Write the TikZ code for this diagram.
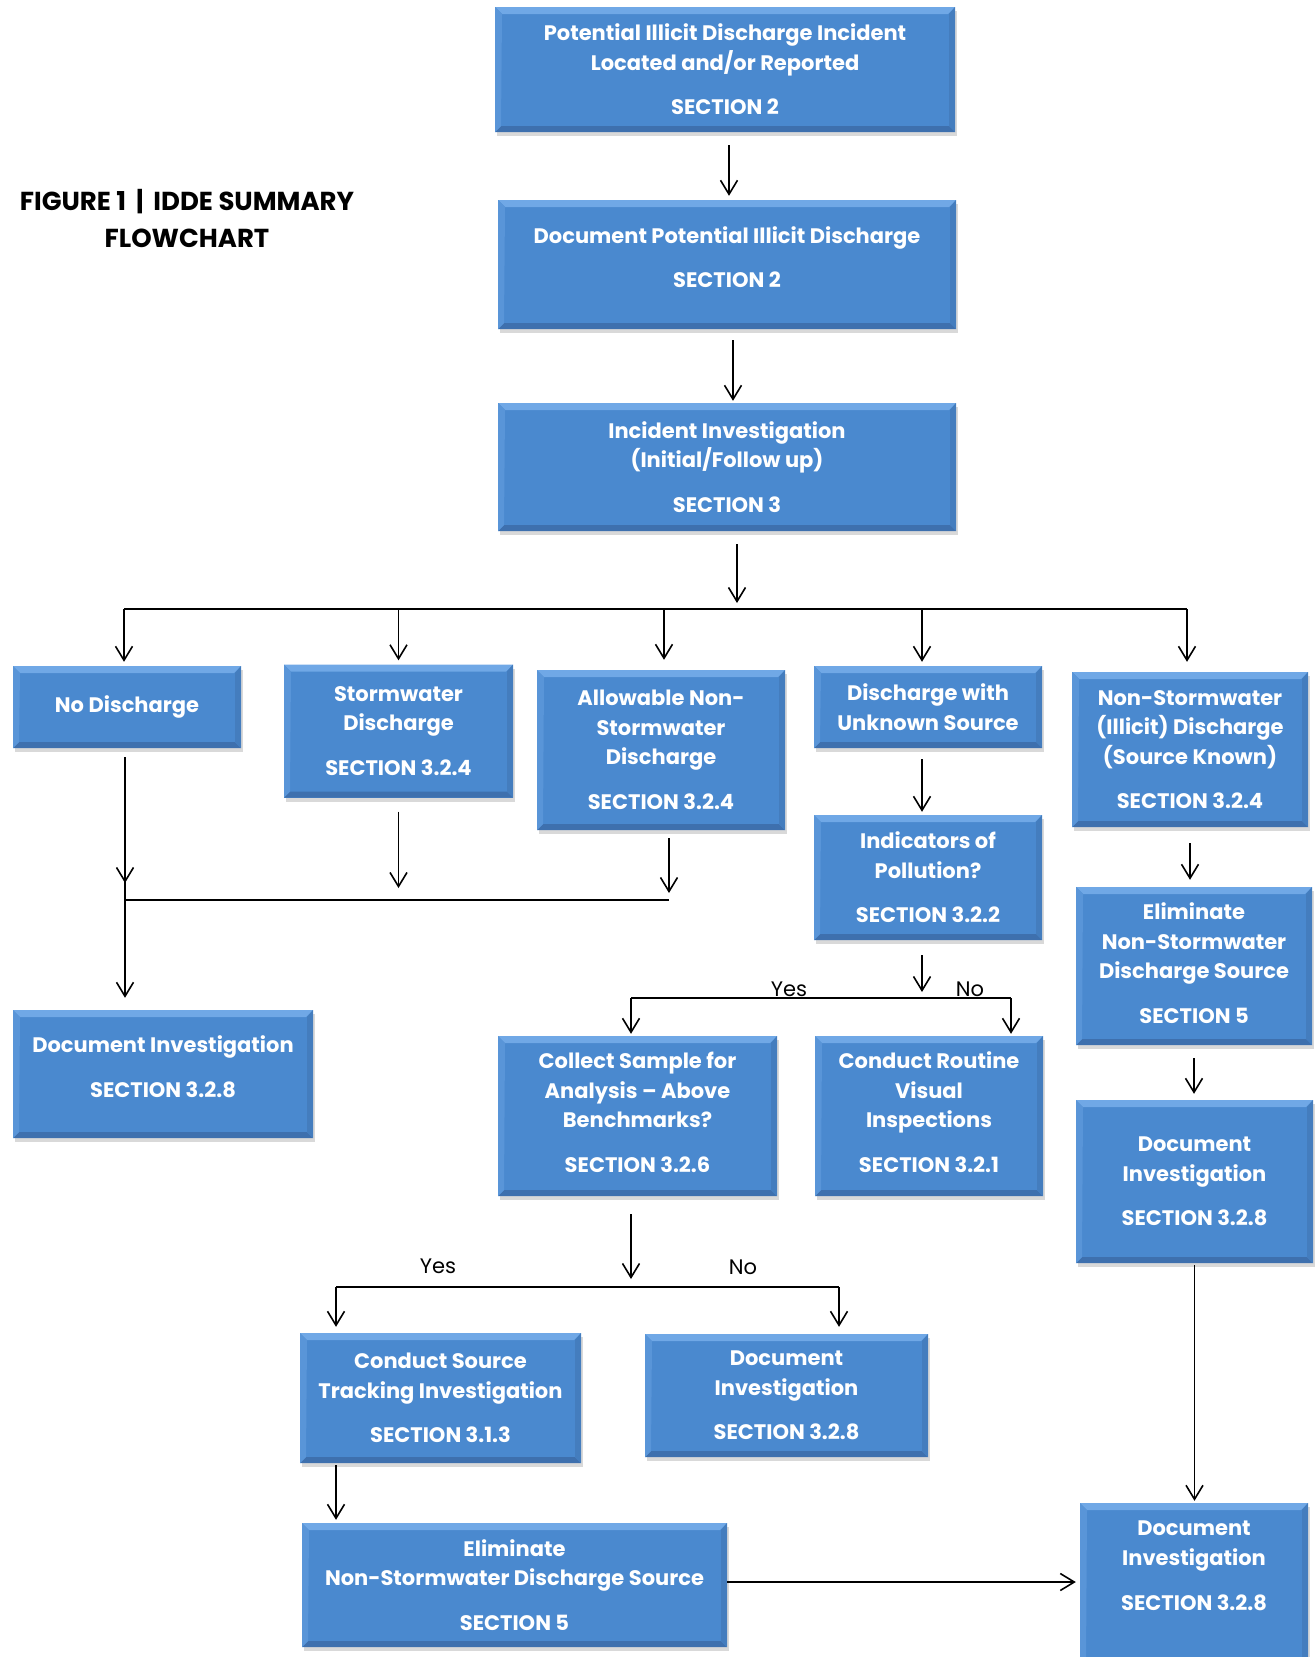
\documentclass[tikz,border=0pt]{standalone}
\usepackage{fontspec}
\setmainfont{Poppins}
\usetikzlibrary{arrows.meta}
\usetikzlibrary{shadows}
\definecolor{boxblue}{RGB}{74,137,207}
\definecolor{boxlight}{RGB}{112,168,230}
\definecolor{boxdark}{RGB}{62,112,174}
\definecolor{boxside}{RGB}{68,125,190}

\begin{document}
\begin{tikzpicture}[x=1pt, y=-1pt,
  >={Straight Barb[length=14pt,width=17pt]},
  flowbox/.style={fill=boxblue, text=white, align=center, inner sep=0pt,
    font=\fontsize{21}{29.6}\selectfont\bfseries,
    drop shadow={shadow xshift=1.5pt, shadow yshift=-4pt, opacity=.3},
    path picture={
      \fill[boxlight] (path picture bounding box.north west) -- (path picture bounding box.north east)
        -- ([xshift=-7pt,yshift=-7pt]path picture bounding box.north east) -- ([xshift=7pt,yshift=-7pt]path picture bounding box.north west) -- cycle;
      \fill[boxdark] (path picture bounding box.south west) -- (path picture bounding box.south east)
        -- ([xshift=-6pt,yshift=6pt]path picture bounding box.south east) -- ([xshift=6pt,yshift=6pt]path picture bounding box.south west) -- cycle;
      \fill[boxside] (path picture bounding box.north east) -- (path picture bounding box.south east)
        -- ([xshift=-6pt,yshift=6pt]path picture bounding box.south east) -- ([xshift=-6pt,yshift=-7pt]path picture bounding box.north east) -- cycle;
      \fill[boxlight!40!boxblue] (path picture bounding box.north west) -- (path picture bounding box.south west)
        -- ([xshift=6pt,yshift=6pt]path picture bounding box.south west) -- ([xshift=7pt,yshift=-7pt]path picture bounding box.north west) -- cycle;
    }},
  flow/.style={black, line width=1.6pt, ->},
  link/.style={black, line width=1.6pt},
  lbl/.style={font=\fontsize{21}{24}\selectfont, anchor=base, inner sep=0pt}]
\useasboundingbox (0,0) rectangle (1315,1657);

\node[font=\fontsize{26}{37}\selectfont\bfseries, align=center] (title) at (187,218) {FIGURE 1 \,|\, IDDE SUMMARY\\FLOWCHART};

\node[flowbox, minimum width=460pt, minimum height=125pt] (report) at (725,69.5) {Potential Illicit Discharge Incident\\Located and/or Reported\\[15pt]SECTION 2};
\node[flowbox, minimum width=458pt, minimum height=129pt] (docpot) at (727,264.5) {Document Potential Illicit Discharge\\[15pt]SECTION 2\\[-15pt]\mbox{}};
\node[flowbox, minimum width=458pt, minimum height=128pt] (invest) at (727,467) {Incident Investigation\\(Initial/Follow up)\\[15pt]SECTION 3};

\node[flowbox, minimum width=228pt, minimum height=82pt] (nodis) at (127,707) {No Discharge};
\node[flowbox, minimum width=229pt, minimum height=133pt] (storm) at (398.5,731) {Stormwater\\Discharge\\[15pt]SECTION 3.2.4};
\node[flowbox, minimum width=248pt, minimum height=160pt] (allow) at (661,750) {Allowable Non-\\Stormwater\\Discharge\\[15pt]SECTION 3.2.4};
\node[flowbox, minimum width=228pt, minimum height=82pt] (unknown) at (928,707) {Discharge with\\Unknown Source};
\node[flowbox, minimum width=236pt, minimum height=155pt] (illicit) at (1190,749.5) {Non-Stormwater\\(Illicit) Discharge\\(Source Known)\\[15pt]SECTION 3.2.4};

\node[flowbox, minimum width=300pt, minimum height=128pt] (docleft) at (163,1074) {Document Investigation\\[15pt]SECTION 3.2.8\\[-15pt]\mbox{}};
\node[flowbox, minimum width=228pt, minimum height=125pt] (indic) at (928,877.5) {Indicators of\\Pollution?\\[15pt]SECTION 3.2.2};
\node[flowbox, minimum width=236pt, minimum height=158pt] (elimright) at (1194,966) {Eliminate\\Non-Stormwater\\Discharge Source\\[15pt]SECTION 5\\[-24pt]\mbox{}};
\node[flowbox, minimum width=237pt, minimum height=163pt] (docright) at (1194.5,1181.5) {Document\\Investigation\\[15pt]SECTION 3.2.8};

\node[flowbox, minimum width=279pt, minimum height=160pt] (sample) at (637.5,1116) {Collect Sample for\\Analysis -- Above\\Benchmarks?\\[15pt]SECTION 3.2.6\\[-22pt]\mbox{}};
\node[flowbox, minimum width=228pt, minimum height=160pt] (routine) at (929,1116) {Conduct Routine\\Visual\\Inspections\\[15pt]SECTION 3.2.1\\[-22pt]\mbox{}};

\node[flowbox, minimum width=281pt, minimum height=130pt] (track) at (440.5,1398) {Conduct Source\\Tracking Investigation\\[15pt]SECTION 3.1.3};
\node[flowbox, minimum width=283pt, minimum height=123pt] (docmid) at (786.5,1395.5) {Document\\Investigation\\[15pt]SECTION 3.2.8};
\node[flowbox, minimum width=425pt, minimum height=124pt] (elimbottom) at (514.5,1585) {Eliminate\\Non-Stormwater Discharge Source\\[15pt]SECTION 5};
\node[flowbox, minimum width=228pt, minimum height=165pt] (docbottom) at (1194,1585.5) {Document\\Investigation\\[15pt]SECTION 3.2.8\\[10pt]~};

\coordinate (splitL) at (124,609);
\coordinate (splitR) at (1187,609);
\coordinate (mergeL) at (125,900);
\coordinate (mergeR) at (669,900);
\coordinate (pollL) at (631,998);
\coordinate (pollR) at (1011,998);
\coordinate (sampL) at (336,1287);
\coordinate (sampR) at (839,1287);

\draw[flow, shorten <=13pt, shorten >=4pt] (report.south -| 729,0) -- (docpot.north -| 729,0);
\draw[flow, shorten <=11pt, shorten >=2pt] (docpot.south -| 733,0) -- (invest.north -| 733,0);
\draw[flow, shorten <=13pt, shorten >=6pt] (invest.south -| 737,0) -- (splitL -| 737,0);
\draw[link] (splitL) -- (splitR);
\draw[flow, shorten >=4pt] (splitL) -- (splitL |- nodis.north);
\draw[flow, shorten >=4pt] (splitL -| storm.north) -- (storm.north);
\draw[flow, shorten >=10pt] (splitL -| 664,0) -- (allow.north -| 664,0);
\draw[flow, shorten >=4pt] (splitL -| 922,0) -- (unknown.north -| 922,0);
\draw[flow, shorten >=10pt] (splitR) -- (splitR |- illicit.north);

\draw[link, shorten <=9pt] (mergeL |- nodis.south) -- (mergeL);
\draw[flow, shorten <=9pt, shorten >=17pt] (mergeL |- nodis.south) -- (mergeL);
\draw[flow, shorten >=12pt] (mergeL) -- (mergeL |- docleft.north);
\draw[flow, shorten <=14pt, shorten >=12pt] (storm.south) -- (storm.south |- mergeL);
\draw[flow, shorten <=8pt, shorten >=7pt] (mergeR |- allow.south) -- (mergeR);
\draw[link] (mergeL) -- (mergeR);

\draw[flow, shorten <=11pt, shorten >=3pt] (unknown.south -| 922,0) -- (indic.north -| 922,0);
\draw[flow, shorten <=15pt, shorten >=6pt] (indic.south -| 922,0) -- (pollL -| 922,0);
\draw[link] (pollL) -- (pollR);
\draw[flow, shorten >=2pt] (pollL) -- (pollL |- sample.north);
\draw[flow, shorten >=2pt] (pollR) -- (pollR |- routine.north);
\node[lbl] (pollyes) at (789,996) {Yes};
\node[lbl] (pollno) at (970,996) {No};

\draw[flow, shorten <=18pt, shorten >=8pt] (pollL |- sample.south) -- (pollL |- sampL);
\draw[link] (sampL) -- (sampR);
\draw[flow, shorten >=6pt] (sampL) -- (sampL |- track.north);
\draw[flow, shorten >=7pt] (sampR) -- (sampR |- docmid.north);
\node[lbl] (sampyes) at (438,1273) {Yes};
\node[lbl] (sampno) at (743,1274) {No};

\draw[flow, shorten <=2pt, shorten >=3pt] (sampL |- track.south) -- (sampL |- elimbottom.north);
\draw[flow, shorten >=4pt] (elimbottom.east |- 0,1582) -- (docbottom.west |- 0,1582);

\draw[flow, shorten <=16pt, shorten >=7pt] (illicit.south) -- (illicit.south |- elimright.north);
\draw[flow, shorten <=13pt, shorten >=6pt] (elimright.south) -- (elimright.south |- docright.north);
\draw[flow, shorten <=2pt, shorten >=2pt] (docright.south) -- (docright.south |- docbottom.north);
\end{tikzpicture}
\end{document}
